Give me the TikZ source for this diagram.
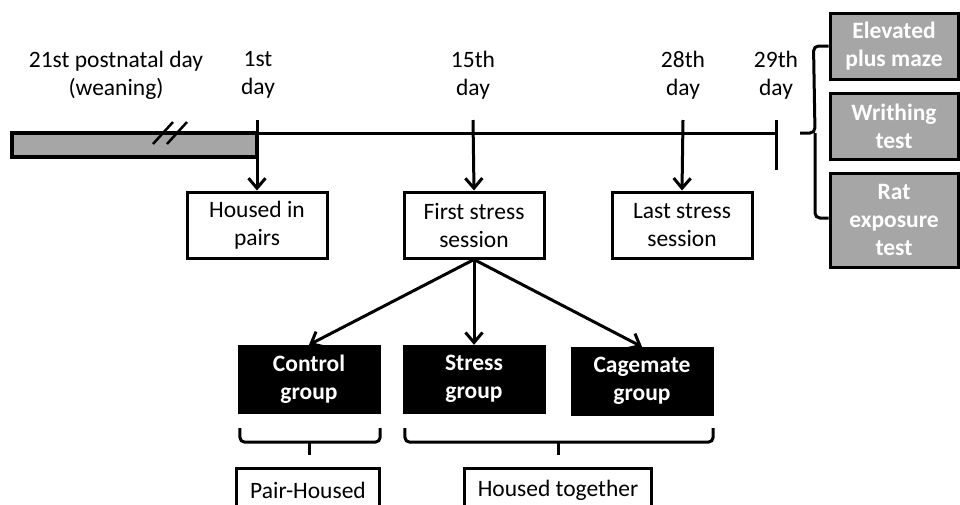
\documentclass[tikz,border=0pt]{standalone}
\usepackage{fontspec}
\setmainfont{Carlito}
\usetikzlibrary{
    arrows.meta,
    positioning,
    calc,
}
\definecolor{barGray}{RGB}{166,166,166}

\begin{document}
\begin{tikzpicture}[
        x=1pt, y=-1pt,
        every node/.style={font=\fontsize{23.5}{28}\selectfont, align=center},
        whitebox/.style={draw, line width=3pt, minimum width=140pt, minimum height=66pt, inner sep=0pt},
        blackbox/.style={draw, fill=black, text=white, minimum width=142pt, minimum height=68pt,
            inner sep=0pt, font=\fontsize{23.5}{28}\selectfont\bfseries},
        graybox/.style={draw, line width=3pt, fill=barGray, text=white, minimum width=128pt,
            inner sep=0pt, font=\fontsize{23.5}{28}\selectfont\bfseries},
        arr/.style={-{Straight Barb[length=10pt, width=17pt, line width=3pt]}, line width=3pt},
        brace/.style={line width=3pt, rounded corners=5pt},
    ]
    \fill[white] (0,0) rectangle (960,504);
    \clip (0,0) rectangle (960,504);

    % time line
    \draw[line width=3.5pt, fill=barGray] (12,133) rectangle (257,157);
    \draw[line width=3pt] (257,133) -- (776,133);
    \draw[line width=2.5pt] (153,144) -- (173,122);
    \draw[line width=2.5pt] (167,144) -- (187,122);

    % day labels
    \node (wean) at (116,75) {21st postnatal day\\(weaning)};
    \node (d1) at (258,75) {1st\\day};
    \node (d15) at (473,75) {15th\\day};
    \node (d28) at (683,75) {28th\\day};
    \node (d29) at (776,75) {29th\\day};

    \coordinate (t1) at (257,120);
    \coordinate (t15) at (473,120);
    \coordinate (t28) at (683,120);
    \coordinate (t29) at (776,120);
    \coordinate (t29b) at (776,170);

    % boxes
    \node[whitebox] (housed) at (257,225) {Housed in\\pairs};
    \node[whitebox] (first) at (474,225) {First stress\\session};
    \node[whitebox] (last) at (682,225) {Last stress\\session};

    \node[blackbox] (ctrl) at (309,379) {Control\\group};
    \node[blackbox] (stress) at (474,379) {Stress\\group};
    \node[blackbox] (cage) at (642,381) {Cagemate\\group};

    \node[whitebox, minimum width=143pt, minimum height=44pt] (pair) at (308,490) {Pair-Housed};
    \node[whitebox, minimum width=187pt, minimum height=44pt] (together) at (558,490) {Housed together};

    \node[graybox, minimum height=66pt] (elev) at (894,46) {Elevated\\plus maze};
    \node[graybox, minimum height=66pt] (writh) at (894,126) {Writhing\\test};
    \node[graybox, minimum height=94pt] (ratexp) at (894,220) {Rat\\exposure\\test};

    % arrows
    \draw[arr] (t1) -- (housed.north);
    \draw[arr] (t15) -- (first.north);
    \draw[arr] (t28) -- (last.north);
    \draw[line width=3pt] (t29) -- (t29b);

    \draw[arr] (first.south) -- (ctrl.north);
    \draw[arr] (first.south) -- (stress.north);
    \draw[arr] (first.south) -- (cage.north);

    % braces
    \draw[brace] ($(ctrl.south west)+(2,15)$) -- ++(0,14) -| ($(ctrl.south east)+(0,15)$);
    \draw[line width=3pt] ($(ctrl.south)+(0,28)$) -- ($(ctrl.south)+(0,42)$);
    \draw[brace] ($(stress.south west)+(2,15)$) -- ++(0,14) -| ($(cage.south east)+(0,13)$);
    \draw[line width=3pt] (together.north |- 0,441) -- (together.north |- 0,455);

    \draw[brace] (elev.west) -- ++(-15,0) -- (815,133) -- (800,133);
    \draw[brace] (815,133) -- (815,218) -- (ratexp.west |- 0,218);
\end{tikzpicture}
\end{document}
